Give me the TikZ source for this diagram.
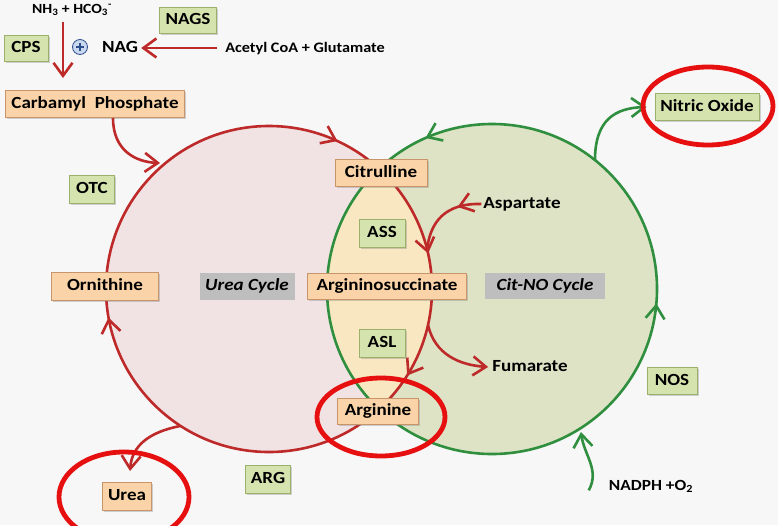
\documentclass[tikz,border=0pt]{standalone}
\usepackage{fontspec}
\setmainfont{Carlito}[FakeStretch=1.12]
\usetikzlibrary{arrows.meta,shadows,decorations.markings}
\definecolor{bg}{HTML}{F7F7F7}
\definecolor{pinkfill}{HTML}{F1E3E3}
\definecolor{greenfill}{HTML}{DEE3C6}
\definecolor{lensfill}{HTML}{F8E7C0}
\definecolor{ofill}{HTML}{FAD4A8}
\definecolor{odraw}{HTML}{C8946A}
\definecolor{gfill}{HTML}{D5E3AE}
\definecolor{gdraw}{HTML}{9BB06A}
\definecolor{grayfill}{HTML}{BEBEBE}
\definecolor{redl}{HTML}{BE2A2A}
\definecolor{greenl}{HTML}{2F8F3F}
\definecolor{ringred}{HTML}{E61010}
\definecolor{plusb}{HTML}{2C4F8C}
\definecolor{plusf}{HTML}{C9D8EE}
\tikzset{
  lab/.style={font=\fontsize{17}{20}\selectfont\bfseries, inner sep=0pt, text height=11.5pt, text depth=3.5pt},
  bx/.style={lab, line width=1pt, drop shadow={shadow xshift=1.8pt, shadow yshift=-1.8pt, opacity=0.35}},
  obox/.style={bx, fill=ofill, draw=odraw},
  gbox/.style={bx, fill=gfill, draw=gdraw},
  ybox/.style={lab, fill=grayfill, font=\fontsize{17}{20}\selectfont\bfseries\itshape},
  barb/.tip={Straight Barb[length=13pt,width=19pt]},
  rline/.style={draw=redl, line width=2.6pt},
  gline/.style={draw=greenl, line width=2.6pt},
  ring/.style={draw=ringred, line width=4.8pt},
}
\begin{document}
\begin{tikzpicture}[x=1pt,y=-1pt]
\useasboundingbox (0,0) rectangle (778,525);
\fill[bg] (0,0) rectangle (778,525);
\coordinate (lc) at (269,289);
\coordinate (rc) at (492,289);
% fills
\fill[pinkfill] (lc) circle[radius=163];
\fill[greenfill] (rc) circle[radius=165];
\begin{scope}
  \clip (lc) circle[radius=163];
  \fill[lensfill] (rc) circle[radius=165];
\end{scope}
% circle strokes with arrowheads
\draw[rline, postaction={decorate}, decoration={markings,
    mark=at position 0.089 with {\arrow{barb}},
    mark=at position 0.472 with {\arrow{barb}},
    mark=at position 0.819 with {\arrow{barb}},
    mark=at position 0.965 with {\arrow{barb}}}]
  ([shift={(163,0)}]lc) arc[start angle=0, end angle=360, radius=163];
\draw[gline, postaction={decorate}, decoration={markings,
    mark=at position 0.316 with {\arrow{barb}},
    mark=at position 0.986 with {\arrow{barb}}}]
  ([shift={(165,0)}]rc) arc[start angle=0, end angle=-360, radius=165];

% nodes
\node[lab, font=\fontsize{14}{16}\selectfont\bfseries] (nh) at (72,9) {NH\textsubscript{3} + HCO\textsubscript{3}\textsuperscript{-}};
\node[gbox, minimum width=44pt, minimum height=26pt] (cps) at (26,48) {CPS};
\node[circle, draw=plusb, fill=plusf, line width=0.8pt, minimum size=15pt, inner sep=0pt] (plus) at (80,47) {};
\node[lab] (nag) at (120,48) {NAG};
\node[gbox, minimum width=57pt, minimum height=26pt] (nags) at (188,20) {NAGS};
\node[lab, font=\fontsize{14.5}{16}\selectfont\bfseries] (acetyl) at (305,48) {Acetyl CoA + Glutamate};
\node[obox, minimum width=179pt, minimum height=27pt] (carb) at (95,104) {Carbamyl\ \ Phosphate};
\node[gbox, minimum width=45pt, minimum height=28pt] (otc) at (92,189) {OTC};
\node[obox, minimum width=107pt, minimum height=28pt] (orn) at (105,286) {Ornithine};
\node[ybox, minimum width=95pt, minimum height=27pt] (ucyc) at (247,286) {Urea Cycle};
\node[obox, minimum width=92pt, minimum height=27pt] (cit) at (381,173) {Citrulline};
\node[gbox, minimum width=46pt, minimum height=28pt] (ass) at (382,233) {ASS};
\node[lab] (asp) at (522,204) {Aspartate};
\node[obox, minimum width=159pt, minimum height=26pt] (argsuc) at (387,286) {Argininosuccinate};
\node[ybox, minimum width=120pt, minimum height=26pt] (citno) at (545,286) {Cit-NO Cycle};
\node[gbox, minimum width=46pt, minimum height=28pt] (asl) at (382,343) {ASL};
\node[lab] (fum) at (530,367) {Fumarate};
\node[obox, minimum width=81pt, minimum height=26pt] (arg) at (378,411) {Arginine};
\node[obox, minimum width=49pt, minimum height=28pt] (urea) at (127,496) {Urea};
\node[gbox, minimum width=45pt, minimum height=28pt] (argenz) at (268,479) {ARG};
\node[gbox, minimum width=50pt, minimum height=27pt] (nos) at (672,381) {NOS};
\node[lab, font=\fontsize{15.5}{17}\selectfont\bfseries] (nadph) at (651,486) {NADPH +O\textsubscript{2}};
\node[gbox, minimum width=104pt, minimum height=27pt] (no) at (707,107) {Nitric Oxide};

% plus sign
\draw[plusb, line width=1.1pt] ([xshift=-4pt]plus.center) -- ([xshift=4pt]plus.center);
\draw[plusb, line width=1.1pt] ([yshift=-4pt]plus.center) -- ([yshift=4pt]plus.center);

% coordinates for free ends
\coordinate (nhs) at (63,22);
\coordinate (nhe) at (63,78);
\coordinate (carbs) at (113,118);
\coordinate (carbe) at (160,163);
\coordinate (aspj) at (427,250);
\coordinate (fums) at (428,325);
\coordinate (ureas) at (180,426);
\coordinate (ureae) at (130,471);
\coordinate (nos1) at (595,160);
\coordinate (nadj) at (581,432);

% red connectors
\draw[rline, -barb] (nhs) -- (nhe);
\draw[rline, -barb] ([xshift=-8pt]acetyl.west) -- ([xshift=3pt]nag.east);
\draw[rline, -barb] (carbs) .. controls (113,150) and (135,162) .. (carbe);
\draw[rline, postaction={decorate}, decoration={markings, mark=at position 0.3 with {\arrow{barb}}}]
  ([xshift=-2pt]asp.west) .. controls (445,203) and (430,222) .. (aspj);
\draw[rline, -barb] (fums) .. controls (435,355) and (460,365) .. ([xshift=-4pt]fum.west);
\draw[rline, -barb] (ureas) .. controls (150,432) and (132,445) .. (ureae);
% green connectors
\draw[gline, -barb] (nos1) .. controls (595,120) and (615,108) .. ([xshift=-8pt]no.west);
\draw[gline, -barb] ([xshift=-20pt,yshift=-12pt]nadph.north west) .. controls (600,470) and (584,455) .. (nadj);

% red highlight rings
\draw[ring] (708,106) ellipse[x radius=65, y radius=39];
\draw[ring] (381,417) ellipse[x radius=64, y radius=39];
\draw[ring] (124,497) ellipse[x radius=65, y radius=45];
\end{tikzpicture}
\end{document}
